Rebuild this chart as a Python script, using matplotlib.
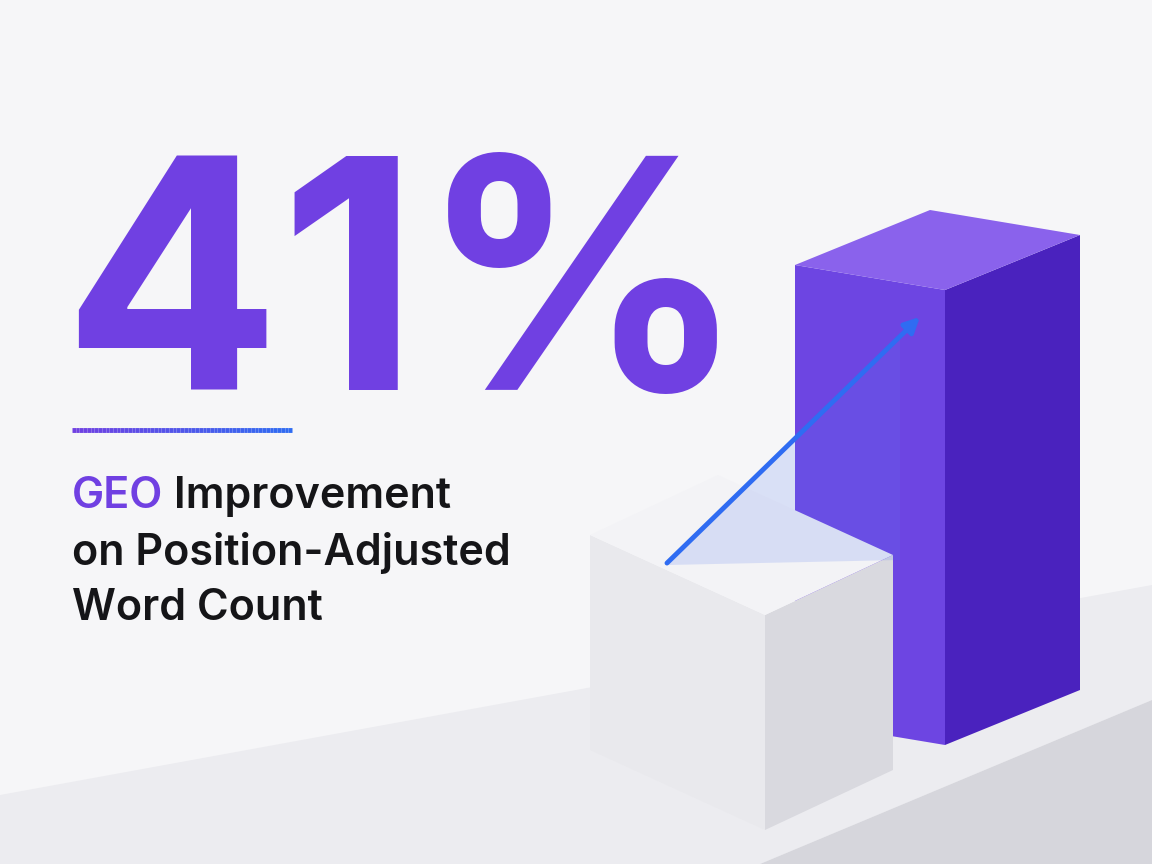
import matplotlib
matplotlib.use("Agg")
import matplotlib.pyplot as plt
import matplotlib.colors as mcolors
import numpy as np
from matplotlib.patches import Polygon
from matplotlib.collections import LineCollection

headline = "41%"
label_accent = "GEO"
label_lines = [" Improvement", "on Position-Adjusted", "Word Count"]
categories = ["Baseline", "GEO"]
bar_heights = [21.5, 45.5]   # relative visual heights

W, H = 1152, 864
fig = plt.figure(figsize=(11.52, 8.64), dpi=100)
fig.patch.set_facecolor("#f6f6f8")
ax = fig.add_axes([0, 0, 1, 1])
ax.set_xlim(0, W); ax.set_ylim(H, 0); ax.axis("off")

# floor slab
ax.add_patch(Polygon([(0, 795), (1152, 585), (1152, 700), (760, 864), (0, 864)], closed=True, fc="#ececf0", ec="none"))
ax.add_patch(Polygon([(760, 864), (1152, 700), (1152, 864)], closed=True, fc="#d6d6dc", ec="none"))

px_per_unit = 10

def box(front_x, front_bottom, left_dx, left_dy, right_dx, right_dy, h, ctop, cleft, cright, z):
    fb = (front_x, front_bottom)
    ft = (front_x, front_bottom - h)
    lb = (front_x - left_dx, front_bottom - left_dy)
    lt = (lb[0], lb[1] - h)
    rb = (front_x + right_dx, front_bottom - right_dy)
    rt = (rb[0], rb[1] - h)
    bt = (lt[0] + right_dx, lt[1] - right_dy)
    ax.add_patch(Polygon([lb, fb, ft, lt], fc=cleft, ec="none", zorder=z))
    ax.add_patch(Polygon([fb, rb, rt, ft], fc=cright, ec="none", zorder=z))
    ax.add_patch(Polygon([lt, ft, rt, bt], fc=ctop, ec="none", zorder=z))

# tall bar (GEO)
box(945, 745, 150, 25, 135, 55, bar_heights[1] * px_per_unit, "#8a62ec", "#6d45e2", "#4a22be", 2)
# small cube (Baseline)
box(765, 830, 175, 80, 128, 60, bar_heights[0] * px_per_unit, "#f3f3f6", "#e9e9ed", "#d9d9df", 3)

# glow under arrow
ax.add_patch(Polygon([(668, 565), (900, 335), (900, 560)], fc="#5a7cf0", alpha=0.18, ec="none", zorder=4))
ax.annotate("", xy=(922, 315), xytext=(665, 565),
            arrowprops=dict(arrowstyle="-|>,head_length=0.9,head_width=0.45", color="#2f6cf2", lw=3.5), zorder=5)

# headline
ax.text(62, 390, headline, fontsize=232, fontweight="bold", family=["Inter", "DejaVu Sans"],
        color="#7040e2", va="baseline", ha="left")

# gradient rule
c0 = np.array(mcolors.to_rgb("#7040e2")); c1 = np.array(mcolors.to_rgb("#2f6cf2"))
xs = np.linspace(72, 292, 60)
segs = [[(xs[i], 430), (xs[i + 1], 430)] for i in range(len(xs) - 1)]
cols = [tuple(c0 * (1 - t) + c1 * t) for t in np.linspace(0, 1, len(segs))]
ax.add_collection(LineCollection(segs, colors=cols, linewidths=3.5))

fs = 31
fam = ["Inter", "DejaVu Sans"]
t1 = ax.text(72, 508, label_accent, fontsize=fs, fontweight="semibold", family=fam, color="#7040e2", va="baseline")
ax.annotate(label_lines[0], xy=(1, 0), xycoords=t1, fontsize=fs, fontweight="semibold", family=fam,
            color="#151518", va="bottom", ha="left")
ax.text(72, 565, label_lines[1], fontsize=fs, fontweight="semibold", family=fam, color="#151518", va="baseline")
ax.text(72, 620, label_lines[2], fontsize=fs, fontweight="semibold", family=fam, color="#151518", va="baseline")

fig.savefig("out.png", dpi=100, facecolor=fig.get_facecolor())
